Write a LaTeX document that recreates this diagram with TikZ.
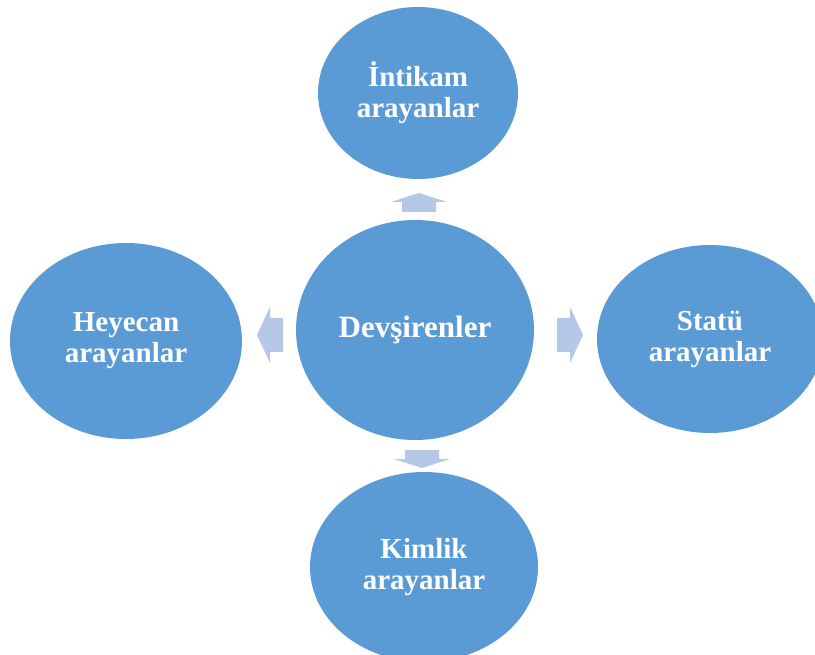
\documentclass[tikz,border=0pt]{standalone}
\usepackage{fontspec}
\setmainfont{Liberation Serif}
\usetikzlibrary{shapes.geometric}
\definecolor{elmavi}{HTML}{5B9BD5}
\definecolor{okmavi}{HTML}{B4C7E7}
\tikzset{
  grup/.style={ellipse, fill=elmavi, text=white, align=center, inner sep=0pt,
    font=\bfseries\fontsize{29}{31}\selectfont},
  okucu/.style={fill=okmavi}
}
\begin{document}
\begin{tikzpicture}[x=1pt, y=-1pt]
  \useasboundingbox (0,0) rectangle (815,655);
  \clip (0,0) rectangle (815,655);
  % Elipsler
  \node[grup, minimum width=238pt, minimum height=220pt, font=\bfseries\fontsize{31}{32}\selectfont] (devsir) at (415,330) {Devşirenler};
  \node[grup, minimum width=200pt, minimum height=172pt] (intikam) at (418,93) {İntikam\\arayanlar};
  \node[grup, minimum width=232pt, minimum height=196pt] (heyecan) at (126,341) {Heyecan\\arayanlar};
  \node[grup, minimum width=226pt, minimum height=188pt] (statu) at (710,339) {Statü\\arayanlar};
  \node[grup, minimum width=228pt, minimum height=190pt] (kimlik) at (424,567) {Kimlik\\arayanlar};

  % Ok uçları
  \coordinate (ust) at (419,193);
  \coordinate (alt) at (422,468);
  \coordinate (sol) at (257,335);
  \coordinate (sag) at (583,335);

  % Bloklu oklar
  \foreach \uc/\aci/\boy/\bas in {ust/0/19/9, alt/180/18/9, sol/90/26/13, sag/-90/26/13}
    \fill[okucu, shift={(\uc)}, rotate=\aci]
      (0,0) -- (28,\bas) -- (17,\bas) -- (17,\boy) -- (-17,\boy) -- (-17,\bas) -- (-28,\bas) -- cycle;
\end{tikzpicture}
\end{document}
